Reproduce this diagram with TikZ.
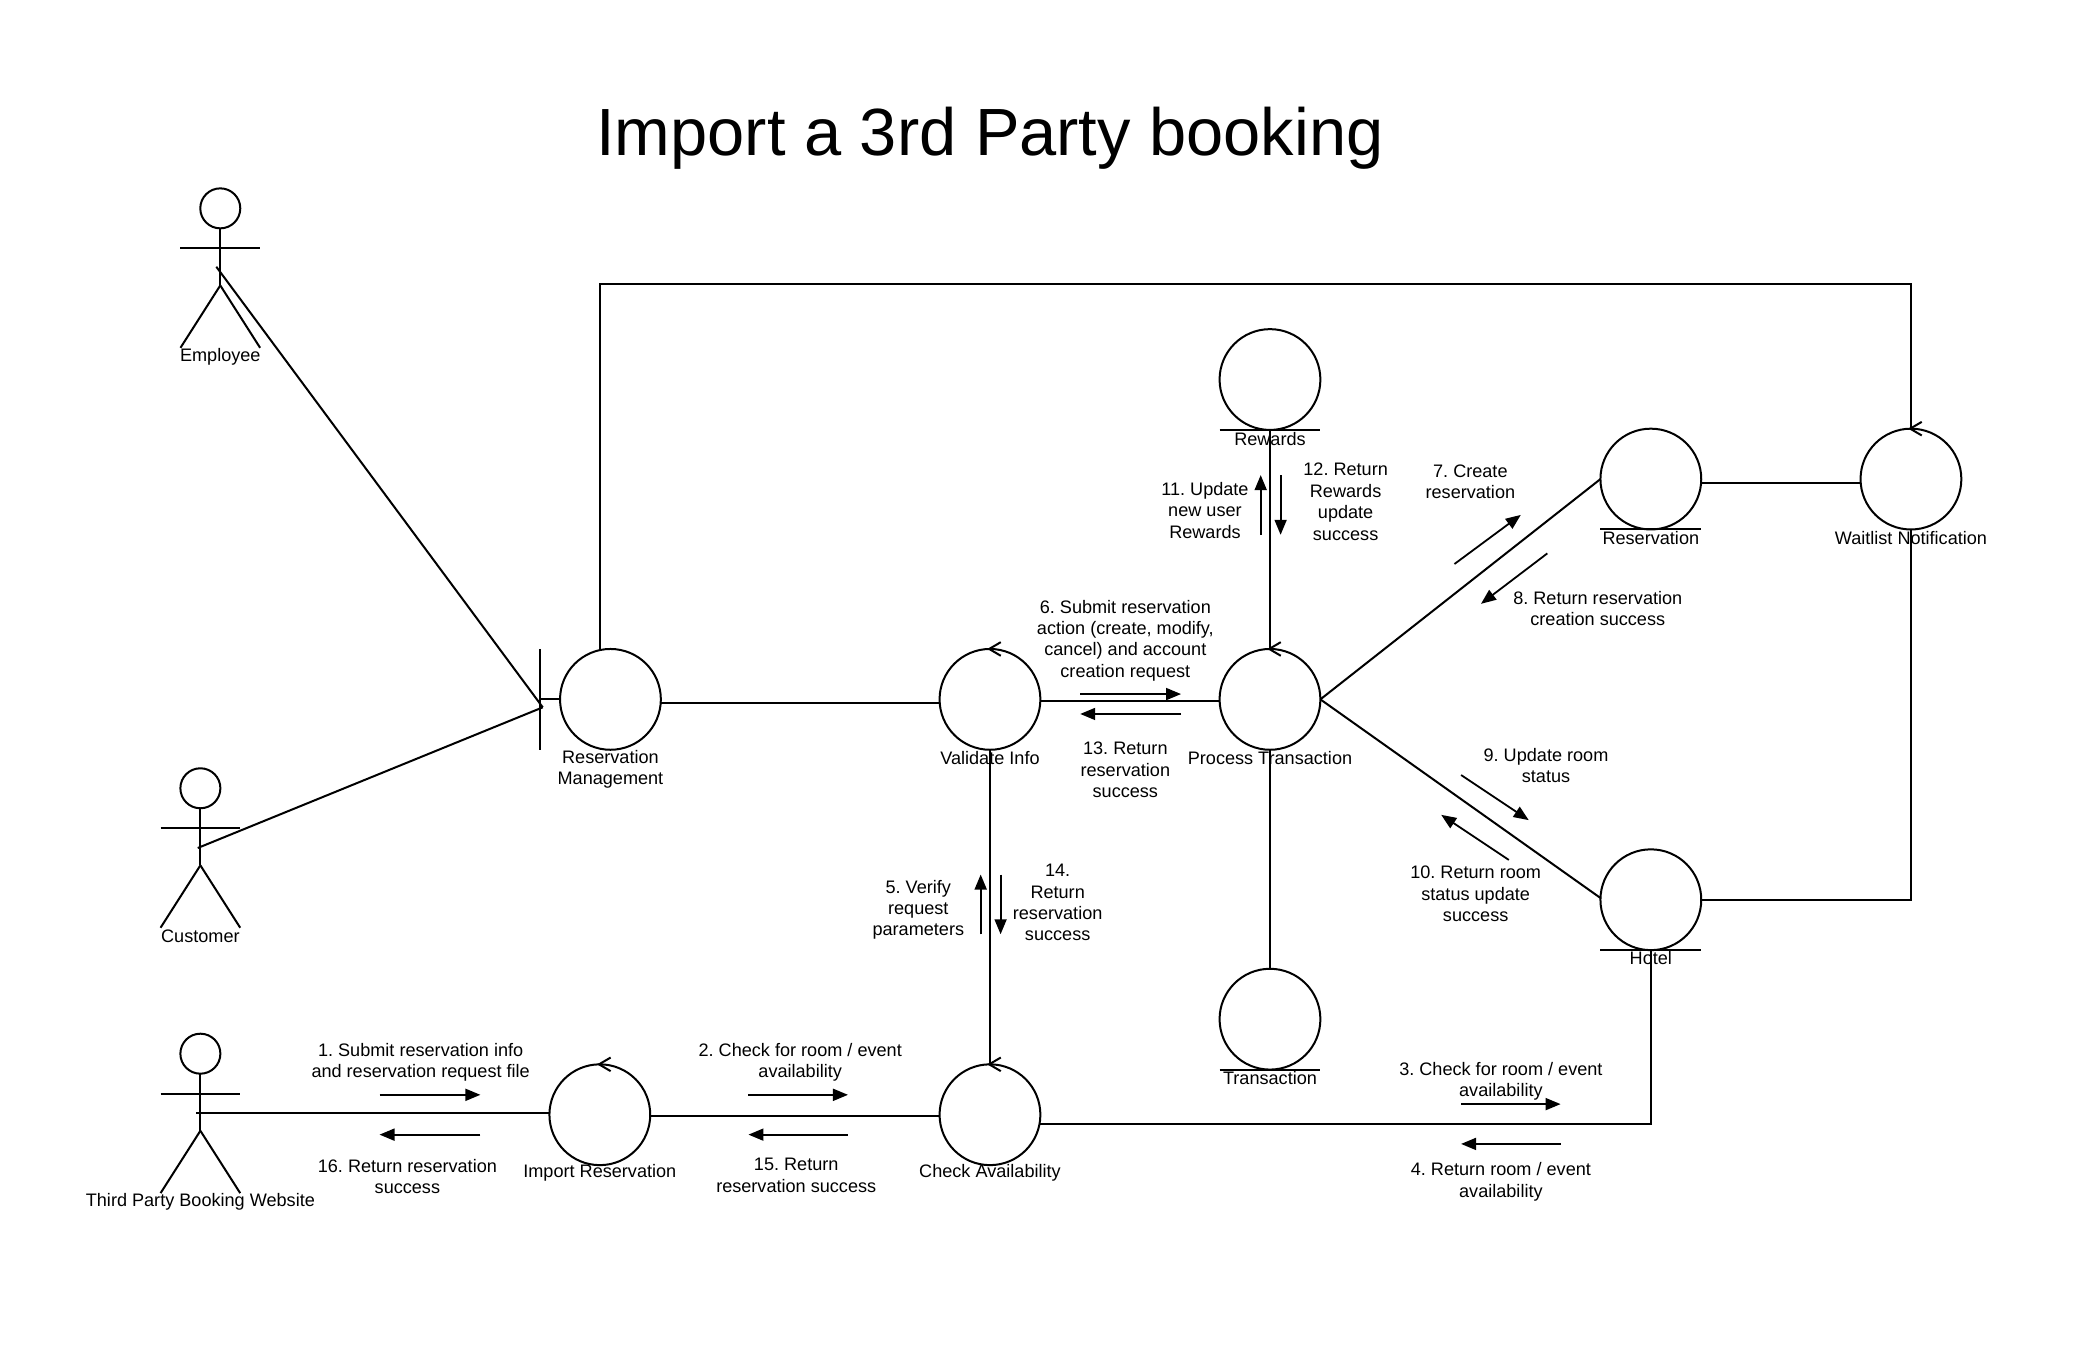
\documentclass[tikz,border=0pt]{standalone}
\usepackage{fontspec}
\setmainfont{Liberation Sans}
\usetikzlibrary{arrows.meta}
\tikzset{
  x=0.6635pt,y=-0.6635pt,
  every path/.style={line width=1pt,line join=miter},
  obj/.style={circle,draw,minimum size=50.4pt,inner sep=0pt,outer sep=0pt,line width=1pt},
  head/.style={circle,draw,minimum size=20pt,inner sep=0pt,outer sep=0pt,line width=1pt},
  lbl/.style={align=center,inner sep=0pt,yshift=-0.4pt,font=\fontsize{9.05}{10.67}\selectfont\frenchspacing},
  msg/.style={line width=.9pt,-{Triangle[length=7.5pt,width=6pt]}},
  titletext/.style={inner sep=0pt,font=\fontsize{33.4}{36}\selectfont}
}
\newcommand{\actorfig}[3]{% name, head x, head y
  \node[head] (#1) at (#2,#3) {};
  \draw (#1.south) -- ++(0,43) coordinate (#1-hip);
  \draw (#1-hip) -- ++(-30,47);
  \draw (#1-hip) -- ++(30,47);
  \draw ([yshift=-20pt]#1.center) ++(-30,0) -- ++(60,0);
}
\newcommand{\ctrltick}[1]{%
  \draw ([xshift=5.4pt,yshift=3.4pt]#1.north) -- ([xshift=-.4pt]#1.north) -- ([xshift=5.4pt,yshift=-3.4pt]#1.north);
}
\newcommand{\entbar}[1]{%
  \draw (#1.west |- #1.south) -- (#1.east |- #1.south);
}
\newcommand{\msgarrow}[5]{% name, x1,y1,x2,y2
  \coordinate (#1a) at (#2,#3);
  \coordinate (#1b) at (#4,#5);
  \draw[msg] (#1a) -- (#1b);
}
\begin{document}
\begin{tikzpicture}
\useasboundingbox (0,0) rectangle (1567.4,1021.9);
\node[titletext] (title) at (746,104) {Import a 3rd Party booking};

% objects
\node[obj] (rm) at (460,527) {};
\node[obj] (val) at (746,527) {};
\node[obj] (proc) at (957,527) {};
\node[obj] (rew) at (957,286) {};
\node[obj] (res) at (1244,361) {};
\node[obj] (wait) at (1440,361) {};
\node[obj] (hotel) at (1244,678) {};
\node[obj] (trans) at (957,768) {};
\node[obj] (imp) at (452,840) {};
\node[obj] (chk) at (746,840) {};

\foreach \n in {val,proc,wait,imp,chk} {\ctrltick{\n}}
\foreach \n in {rew,res,hotel,trans} {\entbar{\n}}

% actors
\actorfig{emp}{166}{157}
\actorfig{cust}{151}{594}
\actorfig{tp}{151}{794}
\coordinate (empport) at (163,201);
\coordinate (custport) at (149,639);
\coordinate (tpport) at (148,839);

% boundary bar
\coordinate (bartop) at (407,489);
\coordinate (barbot) at (407,565);
\coordinate (bport) at (409,533);
\draw (bartop) -- (barbot);
\draw (rm.west) -- (rm.west -| bartop);

% connectors
\coordinate (topcorner) at (1440,214);
\coordinate (hcorner) at (1440,678);
\coordinate (bcorner) at (1244,847);
\draw (empport) -- (bport);
\draw (custport) -- (bport);
\draw (tpport) -- (imp.west |- tpport) ;
\draw (rm.102) -- (rm.102 |- topcorner) -- (topcorner) -- (wait.north);
\draw (rm.-4) -- (val.-176);
\draw (val.-2) -- (proc.-178);
\draw (val.south) -- (chk.north);
\draw (proc.north) -- (rew.south);
\draw (proc.south) -- (trans.north);
\draw (proc.east) -- (res.west);
\draw (proc.east) -- (hotel.178);
\draw (res.-5) -- (wait.-175);
\draw (wait.south) -- (hcorner) -- (hotel.east);
\draw (hotel.south) -- (bcorner) -- (chk.-10 |- bcorner);
\draw (imp.-2) -- (chk.-178);

% message arrows
\msgarrow{m1}{286}{825}{362}{825}
\msgarrow{m16}{362}{855}{286}{855}
\msgarrow{m2}{564}{825}{639}{825}
\msgarrow{m15}{639}{855}{564}{855}
\msgarrow{m3}{1101}{832}{1176}{832}
\msgarrow{m4}{1176}{862}{1101}{862}
\msgarrow{m5}{739}{704}{739}{659}
\msgarrow{m14}{754}{659}{754}{704}
\msgarrow{m6}{814}{523}{890}{523}
\msgarrow{m13}{890}{538}{814}{538}
\msgarrow{m11}{950}{403}{950}{358}
\msgarrow{m12}{965}{358}{965}{403}
\msgarrow{m7}{1096}{425}{1146}{388}
\msgarrow{m8}{1166}{417}{1116}{455}
\msgarrow{m9}{1101}{584}{1152}{618}
\msgarrow{m10}{1137}{648}{1086}{614}

% object labels
\node[lbl] (lrm) at (460,579) {Reservation\\Management};
\node[lbl] (lval) at (746,570.5) {Validate Info};
\node[lbl] (lproc) at (957,570.5) {Process Transaction};
\node[lbl] (lrew) at (957,330) {Rewards};
\node[lbl] (lres) at (1244,405) {Reservation};
\node[lbl] (lwait) at (1440,405) {Waitlist Notification};
\node[lbl] (lhotel) at (1244,721.5) {Hotel};
\node[lbl] (ltrans) at (957,812) {Transaction};
\node[lbl] (limp) at (452,883.5) {Import Reservation};
\node[lbl] (lchk) at (746,883.5) {Check Availability};
\node[lbl] (lemp) at (166,268) {Employee};
\node[lbl] (lcust) at (151,705) {Customer};
\node[lbl] (ltp) at (151,905) {Third Party Booking Website};

% message labels
\node[lbl] (t1) at (317,800) {1. Submit reservation info\\and reservation request file};
\node[lbl] (t16) at (307,886) {16. Return reservation\\success};
\node[lbl] (t2) at (603,800) {2. Check for room / event\\availability};
\node[lbl] (t15) at (600,885) {15. Return\\reservation success};
\node[lbl] (t3) at (1131,814) {3. Check for room / event\\availability};
\node[lbl] (t4) at (1131,890) {4. Return room / event\\availability};
\node[lbl] (t5) at (692,685) {5. Verify\\request\\parameters};
\node[lbl] (t14) at (797,679.5) {14.\\Return\\reservation\\success};
\node[lbl] (t6) at (848,482) {6. Submit reservation\\action (create, modify,\\cancel) and account\\creation request};
\node[lbl] (t13) at (848,579.5) {13. Return\\reservation\\success};
\node[lbl] (t11) at (908,384) {11. Update\\new user\\Rewards};
\node[lbl] (t12) at (1014,377.5) {12. Return\\Rewards\\update\\success};
\node[lbl] (t7) at (1108,362.5) {7. Create\\reservation};
\node[lbl] (t8) at (1204,458) {8. Return reservation\\creation success};
\node[lbl] (t9) at (1165,576.5) {9. Update room\\status};
\node[lbl] (t10) at (1112,673) {10. Return room\\status update\\success};
\end{tikzpicture}
\end{document}
